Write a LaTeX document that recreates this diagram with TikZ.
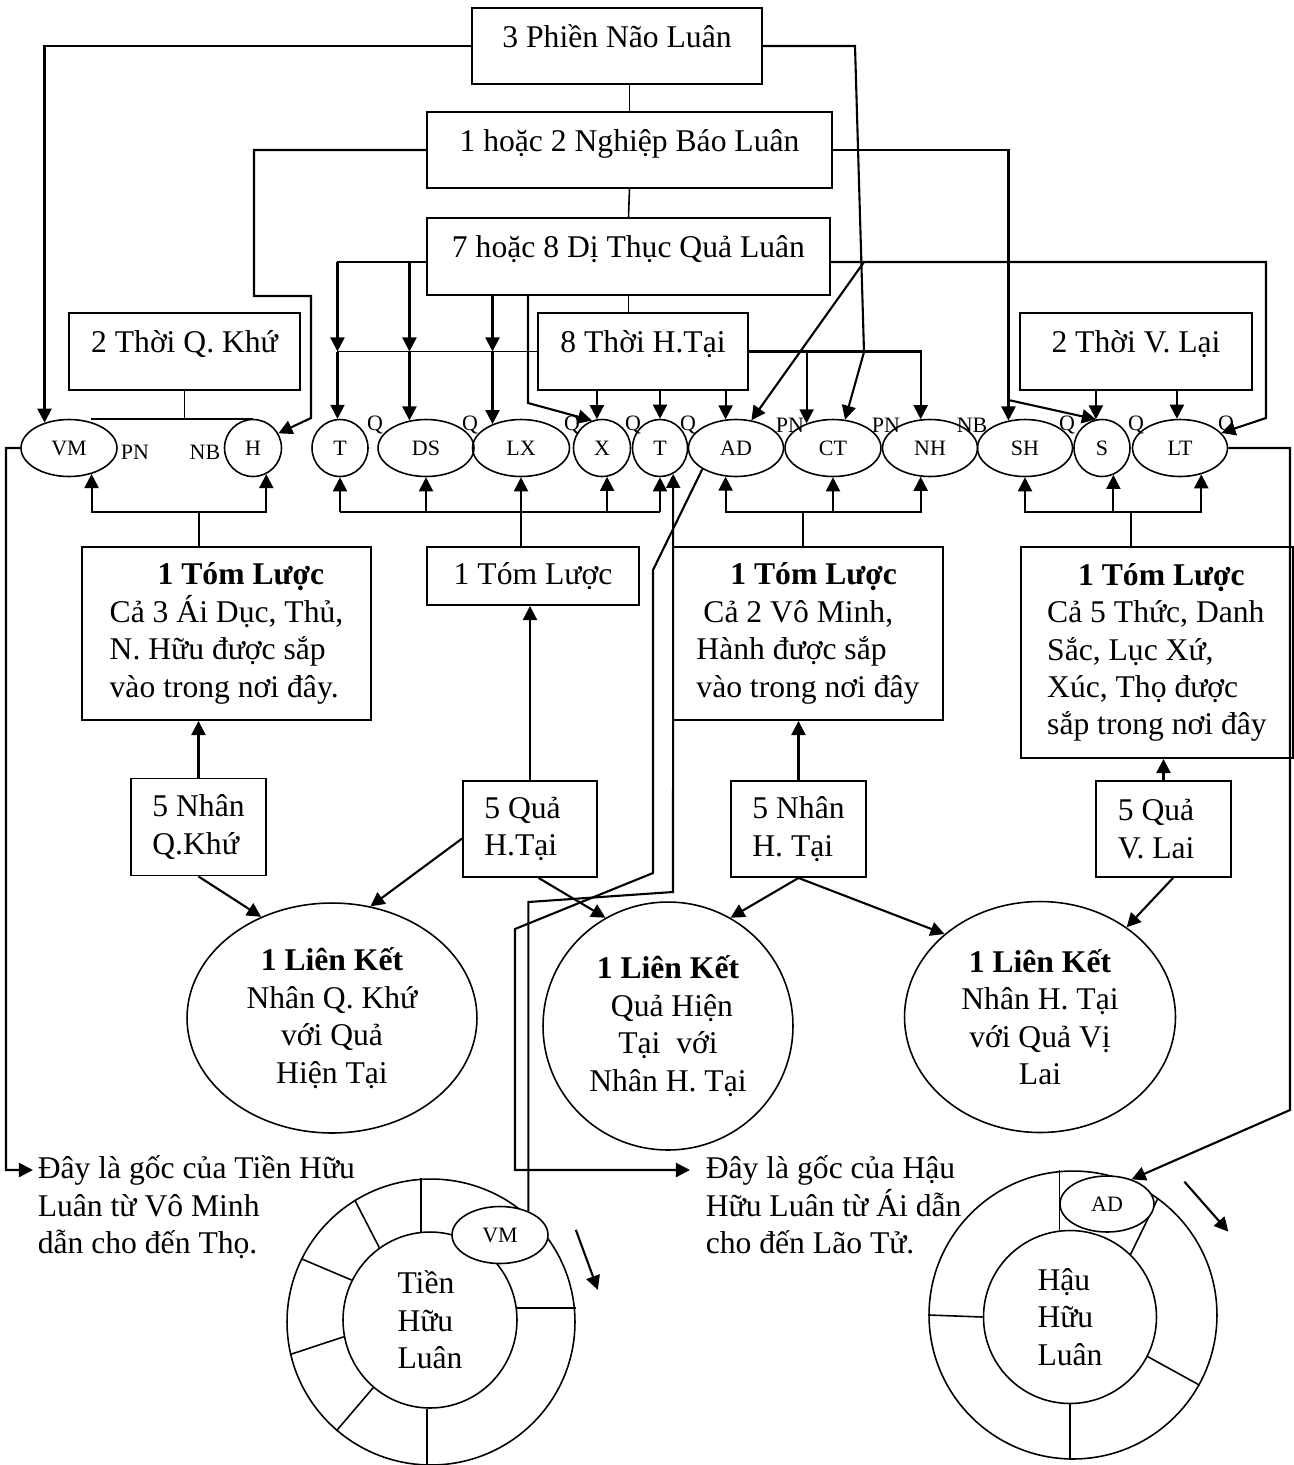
\documentclass[tikz,border=0pt]{standalone}
\usepackage{fontspec}
\setmainfont{Liberation Serif}
\usetikzlibrary{arrows.meta,shapes.geometric}
\tikzset{
    rbox/.style={draw, rectangle, line width=1.1pt, inner sep=2pt},
    lbox/.style={rbox, text depth=0.4cm},
    oval/.style={draw, ellipse, line width=0.9pt, inner sep=0pt, minimum height=1.14cm, font=\fontsize{12.5}{14}\selectfont},
    ring/.style={draw, ellipse, line width=0.9pt, inner sep=0pt},
    lbl/.style={inner sep=0pt, font=\fontsize{12.5}{14}\selectfont},
    arr/.style={-{Triangle[length=8pt,width=8pt]}, line width=1.2pt},
}

\begin{document}
\begin{tikzpicture}[x=0.02cm, y=-0.02cm, line width=0.9pt, font=\fontsize{18}{21.3}\selectfont]
        \useasboundingbox (0,0) rectangle (1294,1465);

        % Draw the three Luan boxes
        \node[lbox, minimum width=5.8cm, minimum height=1.52cm] (pnl) at (617,46) {3 Phiền Não Luân};
        \node[lbox, minimum width=8.1cm, minimum height=1.52cm] (nbl) at (629.5,150) {1 hoặc 2 Nghiệp Báo Luân};
        \node[lbox, minimum width=8.06cm, minimum height=1.54cm] (dtl) at (628.5,256.5) {7 hoặc 8 Dị Thục Quả Luân};

        % the three time boxes
        \node[lbox, minimum width=4.62cm, minimum height=1.54cm] (qk) at (184.5,351.5) {2 Thời Q. Khứ};
        \node[lbox, minimum width=4.2cm, minimum height=1.54cm] (ht) at (643,351.5) {8 Thời H.Tại};
        \node[lbox, minimum width=4.64cm, minimum height=1.54cm] (vl) at (1136,351.5) {2 Thời V. Lại};

        % Draw the twelve links
        \foreach \n/\t/\x/\w in {vm/VM/69/1.92, hh/H/253/1.14, t1/T/340/1.12, ds/DS/426/1.92, lx/LX/521/1.94,
                xx/X/602/1.14, t2/T/660/1.1, ad/AD/736/1.9, ct/CT/833/1.92, nh/NH/930/1.9,
                sh/SH/1025/1.9, ss/S/1102/1.12, lt/LT/1180/1.9}{
            \node[oval, minimum width=\w cm] (\n) at (\x,448) {\t};
        }

        % small labels between the links
        \foreach \t/\x/\y[count=\c] in {PN/135/452, NB/205/452, Q/375/425, Q/470/425, Q/572/425, Q/633/425,
                Q/688/425, PN/790/425, PN/886/425, NB/972/425, Q/1067/425, Q/1136/425, Q/1226/425}{
            \node[lbl] (lab\c) at (\x,\y) {\t};
        }

        % Draw the summary boxes
        \node[rbox, minimum width=5.78cm, minimum height=3.46cm, align=left] (tl1) at (226.5,633.5)
            {\hspace*{0.96cm}\textbf{1 Tóm Lược}\\Cả 3 Ái Dục, Thủ,\\N. Hữu được sắp\\vào trong nơi đây.};
        \node[rbox, minimum width=4.24cm, minimum height=1.16cm] (tl2) at (533,576) {1 Tóm Lược};
        \node[rbox, minimum width=5.4cm, minimum height=3.46cm, align=left] (tl3) at (808,633.5)
            {\hspace*{0.68cm}\textbf{1 Tóm Lược}\\\hspace*{0.14cm}Cả 2 Vô Minh,\\Hành được sắp\\vào trong nơi đây};
        \node[rbox, minimum width=5.44cm, minimum height=4.22cm, align=left] (tl4) at (1157,652.5)
            {\hspace*{0.62cm}\textbf{1 Tóm Lược}\\Cả 5 Thức, Danh\\Sắc, Lục Xứ,\\Xúc, Thọ được\\sắp trong nơi đây};

        % the cause and fruit boxes
        \node[rbox, minimum width=2.7cm, minimum height=1.94cm, align=left] (nqk) at (198.5,827) {5 Nhân\\Q.Khứ};
        \node[rbox, minimum width=2.68cm, minimum height=1.92cm, align=left] (qht) at (530,829) {5 Quả\hspace*{0.3cm}\\H.Tại};
        \node[rbox, minimum width=2.7cm, minimum height=1.92cm, align=left] (nht) at (798.5,829) {5 Nhân\\H. Tại};
        \node[rbox, minimum width=2.7cm, minimum height=1.92cm, align=left] (qvl) at (1163.5,829) {5 Quả\hspace*{0.3cm}\\V. Lai};

        % Draw the connection circles
        \node[ring, minimum width=5.8cm, minimum height=4.6cm, align=center] (lk1) at (332,1018)
            {\textbf{1 Liên Kết}\\Nhân Q. Khứ\\với Quả\\Hiện Tại};
        \node[ring, minimum width=5cm, minimum height=4.96cm, align=center] (lk2) at (668,1026)
            {\textbf{1 Liên Kết}\\\ Quả Hiện\\Tại\ \ với\\Nhân H. Tại};
        \node[ring, minimum width=5.42cm, minimum height=4.62cm, align=center] (lk3) at (1040,1017)
            {\textbf{1 Liên Kết}\\Nhân H. Tại\\với Quả Vị\\Lai};

        % the two root texts
        \node[anchor=north west, inner sep=0pt, align=left] (tien) at (37,1155)
            {Đây là gốc của Tiền Hữu\\Luân từ Vô Minh\\dẫn cho đến Thọ.};
        \node[anchor=north west, inner sep=0pt, align=left] (hau) at (705,1155)
            {Đây là gốc của Hậu\\Hữu Luân từ Ái dẫn\\cho đến Lão Tử.};

        % Draw the Tien Huu Luan wheel
        \node[ring, minimum width=5.76cm, minimum height=5.72cm] (tienO) at (431,1322) {};
        \node[ring, minimum width=3.48cm, minimum height=3.52cm, align=left] (tienI) at (430,1320) {Tiền\\Hữu\\Luân};
        \draw (tienI.96) -- (tienI.96 |- tienO.north);
        \foreach \i/\o in {125/122, 153/154, 191/193, 230/229}{
            \draw (tienI.\i) -- (tienO.\o);
        }
        \draw (tienI.268) -- (tienI.268 |- tienO.south);
        \draw (tienI.8) -- (tienI.8 -| tienO.east);
        \node[oval, fill=white, minimum width=1.92cm] (vmc) at (500,1235) {VM};
        \draw[arr] ([xshift=0.85cm,yshift=-0.19cm]tienO.north east) -- ++(0.44cm,-1.2cm);

        % Draw the Hau Huu Luan wheel
        \node[ring, minimum width=5.76cm, minimum height=5.76cm] (hauO) at (1073,1315) {};
        \node[ring, minimum width=3.46cm, minimum height=3.46cm, align=left] (hauI) at (1070,1317) {Hậu\\Hữu\\Luân};
        \draw (hauI.97) -- (hauI.97 |- hauO.north);
        \draw (hauI.46) -- (hauO.54);
        \draw (hauI.west) -- (hauO.west);
        \draw (hauI.-27) -- (hauO.-29);
        \draw (hauI.south) -- (hauI.south |- hauO.south);
        \node[oval, fill=white, minimum width=1.88cm, minimum height=1.12cm] (adc) at (1107,1204) {AD};
        \draw[arr] ([xshift=0.18cm,yshift=0.62cm]hauO.north east) -- ++(0.88cm,-1.0cm);

        % the chain of Luan boxes
        \draw (nbl.north |- pnl.south) -- (nbl.north);
        \draw (nbl.south) -- (dtl.north);
        \draw (dtl.south) -- (dtl.south |- ht.north);

        % Phien Nao lines
        \coordinate (pn1) at (855,46);
        \coordinate (pn2) at (864,352);
        \draw[arr] (pnl.west) -| (vm.134);
        \draw[arr] (pnl.east) -- (pn1) -- (pn2) -- (ct.67);

        % Nghiep Bao lines
        \coordinate (nb1) at (254,296);
        \coordinate (nb2) at (311,418);
        \coordinate (nb3) at (1009,400);
        \draw[arr] (nbl.west) -| (nb1) -| (nb2) -- (hh.30);
        \draw[arr] (nbl.east) -| (sh.121);
        \draw[arr] (sh.121 |- nb3) -- (ss.102);

        % Di Thuc lines
        \coordinate (dt1) at (337,262);
        \coordinate (dt2) at (528,403);
        \coordinate (dt3) at (864,262);
        \coordinate (dt4) at (1266,418);
        \draw (dtl.west |- dt1) -- (dt1);
        \foreach \e/\a in {t1/95, ds/121}{
            \draw[arr] (\e.\a |- dt1) -- (\e.\a |- ht.west);
        }
        \draw[arr] (lx.140 |- dtl.south) -- (lx.140 |- ht.west);
        \draw[arr] (dt2 |- dtl.south) -- (dt2) -- (xx.110);
        \draw[arr] (dtl.east |- dt3) -| (dt4) -- (lt.20);
        \draw[arr] (dt3) -- (ad.61);

        % the present time lines
        \draw (ht.west) -- (t1.95 |- ht.west);
        \foreach \e/\a in {t1/95, ds/121, lx/140}{
            \draw[arr] (\e.\a |- ht.west) -- (\e.\a);
        }
        \foreach \e/\a in {xx/100, t2/north, ad/110}{
            \draw[arr] (\e.\a |- ht.south) -- (\e.\a);
        }
        \draw[arr] (ht.east) -| (nh.108);
        \draw[arr] (ct.137 |- ht.east) -- (ct.137);

        % past and future time lines
        \draw (qk.south) -- (qk.south |- vm.north);
        \draw ([xshift=0.44cm]vm.north) -- (hh.north);
        \foreach \e/\a in {ss/102, lt/96}{
            \draw[arr] (\e.\a |- vl.south) -- (\e.\a);
        }

        % Draw the brackets under the links
        \coordinate (b1) at (199,512);
        \draw (b1) -- (b1 |- tl1.north);
        \draw[arr] (b1) -| (vm.-49);
        \draw[arr] (b1) -| (hh.-63);

        \coordinate (b2) at (340,512);
        \draw (b2) -- (t2.south |- b2);
        \foreach \e/\a in {t1/south, ds/south, xx/-80, t2/south}{
            \draw[arr] (\e.\a |- b2) -- (\e.\a);
        }
        \draw[arr] (lx.south |- tl2.north) -- (lx.south);

        \coordinate (b3) at (803,512);
        \draw (b3) -- (b3 |- tl3.north);
        \draw[arr] (b3) -| (ad.-110);
        \draw[arr] (b3) -| (nh.-108);
        \draw[arr] (ct.south |- b3) -- (ct.south);

        \coordinate (b4) at (1131,512);
        \draw (b4) -- (b4 |- tl4.north);
        \draw[arr] (b4) -| (sh.south);
        \draw[arr] (b4) -| (lt.-51);
        \draw[arr] (ss.-67 |- b4) -- (ss.-67);

        % small boxes up to the summaries
        \draw[arr] (nqk.north) -- (nqk.north |- tl1.south);
        \draw[arr] (qht.north) -- (qht.north |- tl2.south);
        \draw[arr] (nht.north) -- (nht.north |- tl3.south);
        \draw[arr] (qvl.north) -- (qvl.north |- tl4.south);

        % small boxes down to the connections
        \draw[arr] (nqk.south) -- (lk1.125);
        \draw[arr] (qht.188) -- (lk1.71);
        \draw[arr] (qht.-80) -- (lk2.120);
        \draw[arr] (nht.south) -- (lk2.60);
        \draw[arr] (nht.south) -- (lk3.139);
        \draw[arr] (qvl.-79) -- (lk3.46);

        % the long routes to the wheels
        \coordinate (lr) at (6,1170);
        \draw[arr] (vm.west) -| (lr) -- ([xshift=-0.08cm,yshift=-0.3cm]tien.north west);

        \coordinate (ar1) at (653,570);
        \coordinate (ar2) at (653,873);
        \coordinate (ar3) at (515,929);
        \draw[arr] (ad.-148) -- (ar1) -- (ar2) -- (ar3) |- ([xshift=-0.3cm,yshift=-0.3cm]hau.north west);

        \coordinate (vr1) at (527,902);
        \coordinate (vr2) at (673,892);
        \draw[arr] (vmc.40) -- (vmc.40 |- vr1) -- (vr2) -- (t2.-63);

        \coordinate (rr) at (1290,1110);
        \draw[arr] (lt.east) -| (rr) -- (adc.45);
\end{tikzpicture}
\end{document}
